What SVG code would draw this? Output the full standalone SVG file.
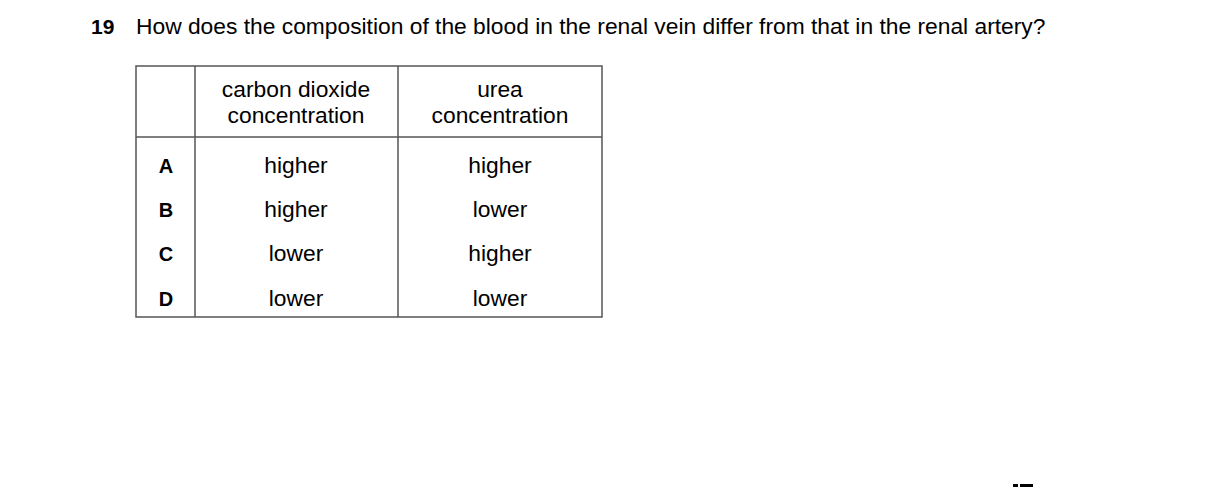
<svg xmlns="http://www.w3.org/2000/svg" width="1216" height="487" viewBox="0 0 1216 487">
<style>
text{font-family:"Liberation Sans",Arial,sans-serif;font-size:22.8px;fill:#000}
.c{text-anchor:middle}
.b{font-weight:bold}
.l{stroke:#555;stroke-width:1.5;fill:none}
</style>
<rect width="1216" height="487" fill="#fff"/>
<text x="91" y="34" class="b" style="font-size:21px">19</text>
<text x="136" y="34">How does the composition of the blood in the renal vein differ from that in the renal artery?</text>
<g id="table">
<rect class="l" x="136" y="66" width="466" height="251"/>
<line class="l" x1="195" y1="66" x2="195" y2="317"/>
<line class="l" x1="398" y1="66" x2="398" y2="317"/>
<line class="l" x1="136" y1="137" x2="602" y2="137"/>
<text class="c" x="296" y="97">carbon dioxide</text>
<text class="c" x="296" y="123">concentration</text>
<text class="c" x="500" y="97">urea</text>
<text class="c" x="500" y="123">concentration</text>
<text class="c b" x="166" y="173" style="font-size:20px">A</text>
<text class="c b" x="166" y="217" style="font-size:20px">B</text>
<text class="c b" x="166" y="261" style="font-size:20px">C</text>
<text class="c b" x="166" y="306" style="font-size:20px">D</text>
<text class="c" x="296" y="173">higher</text>
<text class="c" x="296" y="217">higher</text>
<text class="c" x="296" y="261">lower</text>
<text class="c" x="296" y="306">lower</text>
<text class="c" x="500" y="173">higher</text>
<text class="c" x="500" y="217">lower</text>
<text class="c" x="500" y="261">higher</text>
<text class="c" x="500" y="306">lower</text>
</g>
<rect x="1013" y="484" width="5" height="3" fill="#000"/>
<rect x="1020" y="484" width="13" height="3" fill="#000"/>
</svg>
